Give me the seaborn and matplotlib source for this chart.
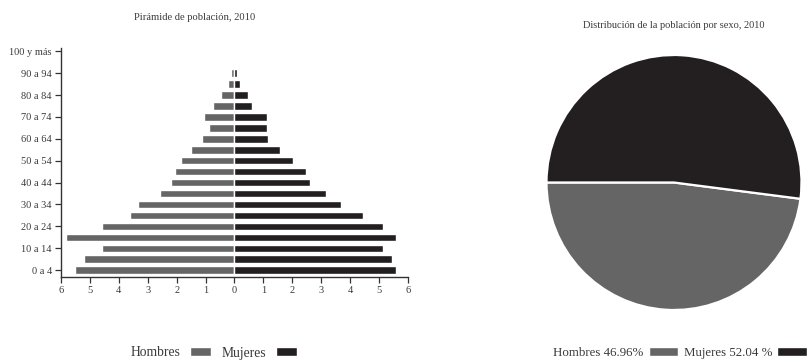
import pandas as pd
import matplotlib.pyplot as plt
import seaborn as sns
from matplotlib.patches import Patch

# Datos de la pirámide (porcentaje de la población)
grupos = ["0 a 4", "5 a 9", "10 a 14", "15 a 19", "20 a 24", "25 a 29", "30 a 34",
          "35 a 39", "40 a 44", "45 a 49", "50 a 54", "55 a 59", "60 a 64", "65 a 69",
          "70 a 74", "75 a 79", "80 a 84", "85 a 89", "90 a 94", "95 a 99", "100 y más"]
hombres = [5.51, 5.21, 4.59, 5.83, 4.59, 3.63, 3.33, 2.57, 2.19, 2.06, 1.85, 1.51,
           1.13, 0.89, 1.06, 0.75, 0.48, 0.24, 0.11, 0.0, 0.0]
mujeres = [5.58, 5.45, 5.13, 5.58, 5.13, 4.46, 3.70, 3.18, 2.62, 2.48, 2.02, 1.57,
           1.15, 1.11, 1.11, 0.62, 0.48, 0.20, 0.10, 0.0, 0.0]

# Distribución por sexo (el ángulo del pastel corresponde a 47.96 / 52.04)
sexo = ["Hombres", "Mujeres"]
sexo_pct = [47.96, 52.04]
sexo_etiquetas = ["Hombres 46.96%", "Mujeres 52.04 %"]

gris = "#666566"
negro = "#231f20"
texto = "#3a3a3a"

sns.set_theme(style="white")
plt.rcParams["font.family"] = ["Liberation Serif", "DejaVu Serif"]
plt.rcParams["text.color"] = texto

df = pd.DataFrame({"grupo": grupos, "Hombres": [-v for v in hombres], "Mujeres": mujeres})
orden = grupos[::-1]

fig = plt.figure(figsize=(8.1, 3.63), dpi=100)

# ============================
# Pirámide de población
# ============================
ax = fig.add_axes([0.0753, 0.2377, 0.4284, 0.630])
sns.barplot(data=df, x="Hombres", y="grupo", order=orden, color=gris, saturation=1,
            width=0.68, edgecolor="white", linewidth=1.0, ax=ax)
sns.barplot(data=df, x="Mujeres", y="grupo", order=orden, color=negro, saturation=1,
            width=0.68, edgecolor="white", linewidth=1.0, ax=ax)

ax.set_xlim(-6, 6)
ax.set_xticks(range(-6, 7))
ax.set_xticklabels([str(abs(v)) for v in range(-6, 7)])
pos_labels = [orden.index(g) for g in grupos[::2]]
ax.set_yticks(pos_labels)
ax.set_yticklabels(grupos[::2])
n = len(grupos)
ax.set_ylim(n - 1 + 0.6, -0.3)
ax.set_xlabel("")
ax.set_ylabel("")
sns.despine(ax=ax)
for s in ["left", "bottom"]:
    ax.spines[s].set_color("#333333")
    ax.spines[s].set_linewidth(1.0)
ax.tick_params(axis="both", which="both", direction="out", length=4.5, width=0.9,
               color="#333333", labelsize=7.5, labelcolor=texto, pad=2,
               left=True, bottom=True)
ax.grid(False)

fig.text(195 / 810, 1 - 18 / 363, "Pirámide de población, 2010", ha="center", va="center",
         fontsize=7.6)

# ============================
# Pastel – población por sexo
# ============================
ax2 = fig.add_axes([0.6747, 0.146, 0.3148, 0.7025])
ax2.pie(sexo_pct, colors=[gris, negro], startangle=180, counterclock=True,
        wedgeprops={"edgecolor": "white", "linewidth": 1.6})
ax2.set_xlim(-1, 1)
ax2.set_ylim(-1, 1)
ax2.set_aspect("equal")
ax2.axis("off")

fig.text(674 / 810, 1 - 25 / 363, "Distribución de la población por sexo, 2010",
         ha="center", va="center", fontsize=7.5)

# ============================
# Leyendas
# ============================
h1 = [Patch(facecolor=gris), Patch(facecolor=negro)]
fig.legend(h1, sexo, loc="center", bbox_to_anchor=(214 / 810, 1 - 353 / 363), ncol=2,
           frameon=False, markerfirst=False, fontsize=9.8, handlelength=1.55,
           handleheight=0.6, handletextpad=0.7, columnspacing=0.8)
fig.legend(h1, sexo_etiquetas, loc="center", bbox_to_anchor=(680 / 810, 1 - 353 / 363),
           ncol=2, frameon=False, markerfirst=False, fontsize=9.3, handlelength=2.3,
           handleheight=0.65, handletextpad=0.4, columnspacing=0.4)

fig.savefig("out.png", dpi=100)
